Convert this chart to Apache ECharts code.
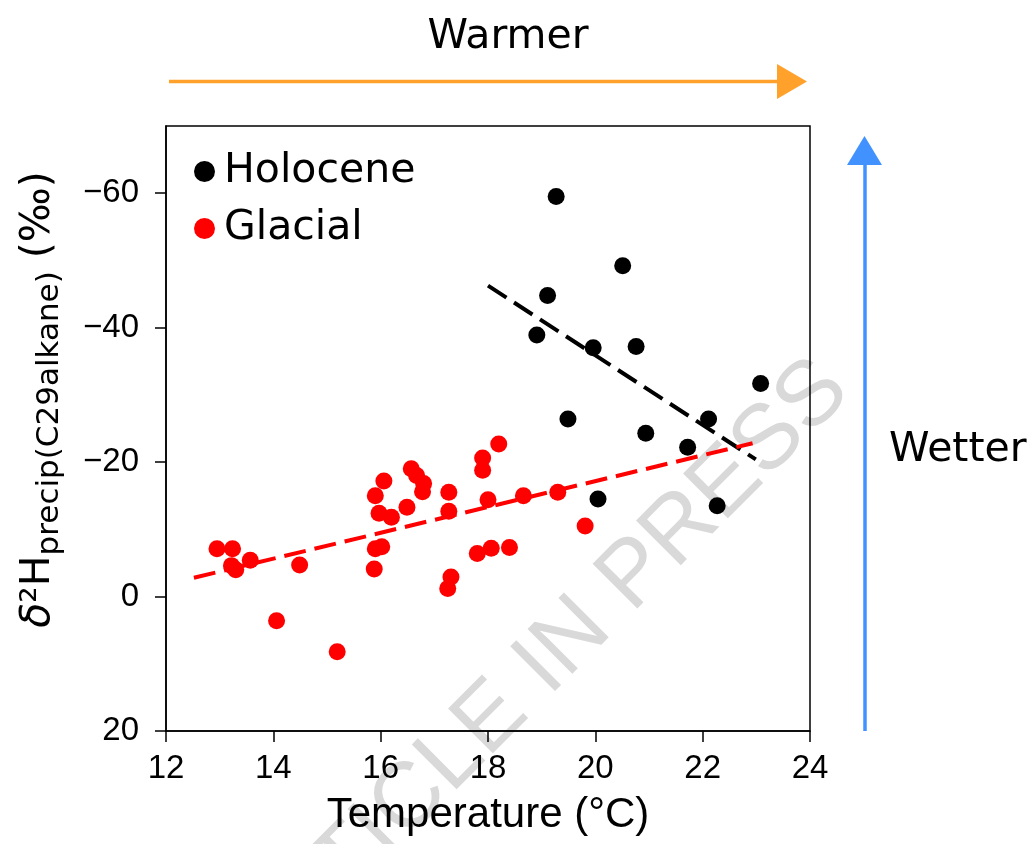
<!DOCTYPE html>
<html>
<head>
<meta charset="utf-8">
<script src="https://cdn.jsdelivr.net/npm/echarts/dist/echarts.min.js"></script>
<style>html,body{margin:0;padding:0;background:#fff}#c{width:1035px;height:844px}</style>
</head>
<body>
<div id="c"></div>
<script>
// ---- data ----
const holoceneTemp = [19.27, 20.51, 19.11, 18.91, 19.96, 20.76, 23.08, 19.49, 22.11, 20.94, 21.72, 20.05, 22.27];
const holoceneD2H  = [-59.5, -49.2, -44.8, -38.9, -37.0, -37.2, -31.7, -26.4, -26.4, -24.3, -22.2, -14.5, -13.5];

const glacialTemp = [18.20, 17.90, 17.90, 16.57, 16.67, 16.80, 16.78, 16.06, 15.90, 17.27, 16.49, 15.97, 16.20, 17.27,
                     18.00, 18.66, 19.30, 19.81, 15.90, 16.02, 15.88, 17.80, 18.06, 18.40, 17.31, 17.25, 12.95, 13.24,
                     13.57, 13.22, 13.30, 14.49, 14.06, 15.19];
const glacialD2H  = [-22.7, -20.6, -18.8, -19.0, -18.0, -16.8, -15.6, -17.2, -15.0, -15.5, -13.3, -12.4, -11.8, -12.7,
                     -14.4, -15.0, -15.5, -10.5, -7.1, -7.4, -4.1, -6.4, -7.2, -7.3, -2.9, -1.2, -7.1, -7.1,
                     -5.4, -4.6, -4.0, -4.7, 3.6, 8.2];

const holoceneFitT = [18.0, 22.99];
const holoceneFitD = [-46.25, -20.4];
const glacialFitT  = [12.52, 22.93];
const glacialFitD  = [-2.8, -22.8];

const xTicks = [12, 14, 16, 18, 20, 22, 24];
const yTicks = [-60, -40, -20, 0, 20];

const zip = (a, b) => a.map((v, i) => [v, b[i]]);

const sans = 'Liberation Sans, Arial, sans-serif';
const dejavu = 'DejaVu Sans, sans-serif';

const chart = echarts.init(document.getElementById('c'), null, {renderer: 'canvas'});
chart.setOption({
  animation: false,
  backgroundColor: '#fff',
  grid: {left: 166, right: 225, top: 126, bottom: 113, show: true, borderColor: '#000', borderWidth: 1.5, backgroundColor: 'transparent', containLabel: false},
  xAxis: {
    type: 'value', min: xTicks[0], max: xTicks[xTicks.length - 1], interval: 2,
    axisLine: {show: true, onZero: false, lineStyle: {color: '#000', width: 1.5}},
    axisTick: {show: true, inside: false, length: 11, lineStyle: {color: '#000', width: 1.5}},
    axisLabel: {color: '#000', fontFamily: sans, fontSize: 33, margin: 21, showMinLabel: true, showMaxLabel: true},
    splitLine: {show: false},
    name: 'Temperature (°C)', nameLocation: 'middle', nameGap: 63,
    nameTextStyle: {color: '#000', fontFamily: sans, fontSize: 42}
  },
  yAxis: {
    type: 'value', min: -70, max: 20, inverse: true,
    axisLine: {show: true, onZero: false, lineStyle: {color: '#000', width: 1.5}},
    axisTick: {show: true, inside: false, length: 11, customValues: yTicks, lineStyle: {color: '#000', width: 1.5}},
    axisLabel: {color: '#000', fontFamily: sans, fontSize: 33, margin: 27, customValues: yTicks,
      formatter: v => String(v).replace('-', '\u2212')},
    splitLine: {show: false},
    name: '{i|δ}{m|²H}{s|precip(C29alkane)}{m| (‰)}',
    nameLocation: 'middle', nameRotate: 90, nameGap: 103,
    nameTextStyle: {
      color: '#000', fontFamily: dejavu, fontSize: 41, padding: [0, 0, 0, 58],
      rich: {
        i: {fontFamily: dejavu, fontSize: 41, lineHeight: 50, fontStyle: 'italic', color: '#000'},
        m: {fontFamily: dejavu, fontSize: 41, lineHeight: 50, color: '#000'},
        s: {fontFamily: dejavu, fontSize: 31, lineHeight: 50, padding: [24, 0, 0, 0], color: '#000'}
      }
    }
  },
  legend: {
    show: true, orient: 'vertical', left: 189, top: 146, itemGap: 16,
    itemWidth: 29, itemHeight: 21, icon: 'circle',
    textStyle: {fontFamily: dejavu, fontSize: 41, lineHeight: 41, color: '#000'},
    data: ['Holocene', 'Glacial']
  },
  series: [
    {name: 'Holocene', type: 'scatter', data: zip(holoceneTemp, holoceneD2H), symbolSize: 17,
     itemStyle: {color: '#000', opacity: 1}, z: 3},
    {name: 'Glacial', type: 'scatter', data: zip(glacialTemp, glacialD2H), symbolSize: 17,
     itemStyle: {color: '#ff0000', opacity: 1}, z: 3},
    {name: 'HoloceneFit', type: 'line', data: zip(holoceneFitT, holoceneFitD), showSymbol: false, symbol: 'none',
     lineStyle: {color: '#000', width: 4, type: [22, 9]}, z: 4},
    {name: 'GlacialFit', type: 'line', data: zip(glacialFitT, glacialFitD), showSymbol: false, symbol: 'none',
     lineStyle: {color: '#ff0000', width: 4, type: [22, 9]}, z: 5}
  ],
  graphic: [
    {type: 'text', z: -5, x: 537, y: 673, rotation: Math.PI / 4,
     style: {text: 'ARTICLE IN PRESS', font: '92px ' + sans, fill: '#d9d9d9', textAlign: 'center', textVerticalAlign: 'middle'}},
    {type: 'text', x: 508, y: 37, style: {text: 'Warmer', font: '41px ' + dejavu, fill: '#000', textAlign: 'center', textVerticalAlign: 'middle'}},
    {type: 'line', shape: {x1: 169, y1: 81.5, x2: 779, y2: 81.5}, style: {stroke: '#ffa12b', lineWidth: 3.5}},
    {type: 'polygon', shape: {points: [[777, 64], [777, 99], [807, 81.5]]}, style: {fill: '#ffa12b'}},
    {type: 'line', shape: {x1: 865, y1: 731, x2: 865, y2: 163}, style: {stroke: '#4191ff', lineWidth: 3.5}},
    {type: 'polygon', shape: {points: [[847, 165], [882, 165], [864.5, 136]]}, style: {fill: '#4191ff'}},
    {type: 'text', x: 889, y: 450, style: {text: 'Wetter', font: '41px ' + dejavu, fill: '#000', textAlign: 'left', textVerticalAlign: 'middle'}}
  ]
});
</script>
</body>
</html>
